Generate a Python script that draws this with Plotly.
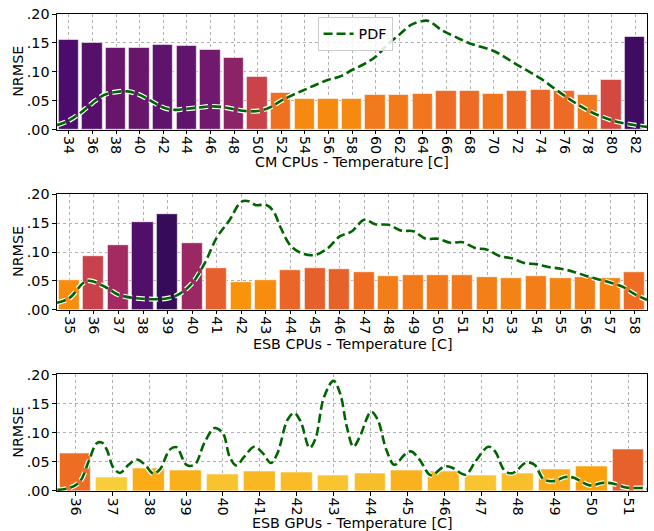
import plotly.graph_objects as go

# ---------------- data ----------------
cm_temps = [34, 36, 38, 40, 42, 44, 46, 48, 50, 52, 54, 56, 58, 60, 62, 64, 66, 68, 70, 72, 74, 76, 78, 80, 82]
cm_nrmse = [0.155, 0.150, 0.141, 0.141, 0.146, 0.145, 0.137, 0.123, 0.091, 0.063, 0.052, 0.052, 0.052,
            0.059, 0.059, 0.061, 0.066, 0.066, 0.062, 0.066, 0.068, 0.066, 0.060, 0.086, 0.161]
cm_pdf_t = [33.0, 34, 35, 36, 37, 38, 39, 40, 41, 42, 43, 44, 45, 46, 47, 48, 49, 50, 51, 52, 53, 54, 55,
            56, 57, 58, 59, 60, 61, 62, 63, 64, 64.5, 65.6, 66.7, 68, 70, 72, 74, 76, 78, 80, 82, 83]
cm_pdf_v = [0.0074, 0.0155, 0.029, 0.046, 0.060, 0.065, 0.066, 0.060, 0.049, 0.038, 0.034, 0.036, 0.038,
            0.040, 0.039, 0.035, 0.032, 0.032, 0.038, 0.050, 0.060, 0.069, 0.078, 0.086, 0.092, 0.103,
            0.113, 0.126, 0.147, 0.164, 0.181, 0.188, 0.188, 0.172, 0.161, 0.149, 0.136, 0.112, 0.088,
            0.0586, 0.033, 0.016, 0.0074, 0.0045]

esbc_temps = list(range(35, 59))
esbc_nrmse = [0.051, 0.092, 0.112, 0.152, 0.165, 0.116, 0.072, 0.048, 0.051, 0.069, 0.072, 0.071,
              0.065, 0.058, 0.059, 0.059, 0.060, 0.057, 0.055, 0.058, 0.055, 0.057, 0.055, 0.065]
esbc_pdf_t = [34.5, 35, 35.72, 36.5, 37, 38, 39, 39.5, 40, 40.5, 41, 41.5, 42, 42.3, 42.6, 43, 43.3,
              43.6, 44, 44.5, 45, 45.5, 46, 46.5, 47, 47.45, 48, 48.5, 49, 49.5, 50, 50.5, 51, 51.5,
              52, 52.5, 53, 53.5, 54, 54.5, 55, 55.5, 56, 56.5, 57, 57.5, 58, 58.5]
esbc_pdf_v = [0.012, 0.020, 0.050, 0.0385, 0.026, 0.019, 0.020, 0.028, 0.046, 0.080, 0.125, 0.154,
              0.187, 0.188, 0.181, 0.182, 0.171, 0.142, 0.111, 0.097, 0.095, 0.106, 0.127, 0.136,
              0.156, 0.148, 0.147, 0.137, 0.136, 0.123, 0.123, 0.116, 0.117, 0.107, 0.104, 0.093,
              0.089, 0.081, 0.079, 0.074, 0.071, 0.066, 0.059, 0.053, 0.047, 0.040, 0.027, 0.017]

esbg_temps = list(range(36, 52))
esbg_nrmse = [0.065, 0.024, 0.038, 0.036, 0.028, 0.033, 0.031, 0.027, 0.030, 0.035, 0.0335, 0.027,
              0.0295, 0.037, 0.042, 0.071]
esbg_pdf_t = [35.51, 35.87, 36.13, 36.36, 36.58, 36.72, 36.85, 37.03, 37.21, 37.44, 37.66, 37.89, 38.11,
              38.29, 38.56, 38.74, 39.01, 39.23, 39.50, 39.77, 40.0, 40.18, 40.36, 40.58, 40.85, 41.08,
              41.30, 41.48, 41.75, 41.93, 42.11, 42.35, 42.51, 42.74, 43.0, 43.18, 43.36, 43.54, 43.71,
              44.02, 44.2, 44.43, 44.65, 44.92, 45.1, 45.33, 45.64, 46.0, 46.22, 46.58, 46.85, 47.2,
              47.38, 47.65, 47.87, 48.23, 48.45, 48.7, 48.97, 49.28, 49.5, 49.95, 50.3, 50.57, 50.93,
              51.42, 51.5]
esbg_pdf_v = [0.002, 0.006, 0.017, 0.051, 0.082, 0.083, 0.071, 0.040, 0.031, 0.045, 0.054, 0.045, 0.030,
              0.037, 0.071, 0.075, 0.045, 0.045, 0.083, 0.108, 0.099, 0.059, 0.044, 0.059, 0.076, 0.065,
              0.048, 0.065, 0.122, 0.134, 0.119, 0.074, 0.090, 0.161, 0.189, 0.167, 0.110, 0.076, 0.093,
              0.136, 0.122, 0.071, 0.045, 0.062, 0.068, 0.054, 0.027, 0.042, 0.040, 0.028, 0.051, 0.076,
              0.068, 0.034, 0.031, 0.049, 0.045, 0.020, 0.017, 0.024, 0.023, 0.0097, 0.014, 0.013, 0.006,
              0.005, 0.004]

panels = [
    dict(temps=cm_temps, vals=cm_nrmse, pt=cm_pdf_t, pv=cm_pdf_v, t0=34, step=2,
         title="CM CPUs - Temperature [C]"),
    dict(temps=esbc_temps, vals=esbc_nrmse, pt=esbc_pdf_t, pv=esbc_pdf_v, t0=35, step=1,
         title="ESB CPUs - Temperature [C]"),
    dict(temps=esbg_temps, vals=esbg_nrmse, pt=esbg_pdf_t, pv=esbg_pdf_v, t0=36, step=1,
         title="ESB GPUs - Temperature [C]"),
]
y_ticks = [0, 0.05, 0.10, 0.15, 0.20]
y_ticktext = [".00", ".05", ".10", ".15", ".20"]

# ---------------- layout geometry ----------------
W, H = 654, 531
ML, MR, MT, MB = 57, 6, 12, 40
PH = H - MT - MB
extents = [(12, 128), (193, 309), (374, 491)]
title_y_px = [161, 343, 523]

def py(px):
    return 1 - (px - MT) / PH

FONT = "DejaVu Sans"
FS = 14.3
GREEN = "#006400"
DASH = "9px,4px"

fig = go.Figure()
annotations = []
for k, p in enumerate(panels):
    n = len(p["temps"])
    idx = list(range(n))
    xa = "x" if k == 0 else f"x{k+1}"
    ya = "y" if k == 0 else f"y{k+1}"
    fig.add_trace(go.Bar(
        x=idx, y=p["vals"], width=0.86, xaxis=xa, yaxis=ya,
        marker=dict(color=p["vals"], colorscale="Inferno", reversescale=True, cmin=0, cmax=0.2,
                    line=dict(color="rgba(255,255,255,0.55)", width=1.2)),
        showlegend=False, hoverinfo="skip"))
    px_ = [(t - p["t0"]) / p["step"] for t in p["pt"]]
    fig.add_trace(go.Scatter(
        x=px_, y=p["pv"], mode="lines", xaxis=xa, yaxis=ya,
        line=dict(color="white", width=5, dash=DASH, shape="spline", smoothing=1.0),
        showlegend=False, hoverinfo="skip"))
    fig.add_trace(go.Scatter(
        x=px_, y=p["pv"], mode="lines", xaxis=xa, yaxis=ya, name="PDF",
        line=dict(color=GREEN, width=2.6, dash=DASH, shape="spline", smoothing=1.0),
        showlegend=(k == 0), hoverinfo="skip"))

    top, bot = extents[k]
    axis_common = dict(showline=True, linecolor="black", linewidth=1.2, mirror=True,
                       ticks="outside", ticklen=3.5, tickcolor="black", tickwidth=1,
                       showgrid=True, gridcolor="#b0b0b0", griddash="dot", gridwidth=0.8,
                       zeroline=False, tickfont=dict(family=FONT, size=FS, color="black"))
    fig.layout[("xaxis" if k == 0 else f"xaxis{k+1}")] = dict(
        axis_common, domain=[0, 1], anchor=ya, range=[-0.5, n - 0.5],
        tickmode="array", tickvals=idx, ticktext=[str(t) for t in p["temps"]], tickangle=90,
        ticklabelstandoff=-1)
    fig.layout[("yaxis" if k == 0 else f"yaxis{k+1}")] = dict(
        axis_common, domain=[py(bot), py(top)], anchor=xa, range=[0, 0.2],
        tickmode="array", tickvals=y_ticks, ticktext=y_ticktext)

    annotations.append(dict(text=p["title"], xref="paper", yref="paper", x=0.5, y=py(title_y_px[k]),
                            xanchor="center", yanchor="middle", showarrow=False,
                            font=dict(family=FONT, size=FS, color="black")))
    annotations.append(dict(text="NRMSE", xref="paper", yref="paper", x=(18 - ML) / (W - ML - MR),
                            y=py((top + bot) / 2), xanchor="center", yanchor="middle",
                            textangle=-90, showarrow=False,
                            font=dict(family=FONT, size=FS, color="black")))

fig.update_layout(
    width=W, height=H, margin=dict(l=ML, r=MR, t=MT, b=MB),
    paper_bgcolor="white", plot_bgcolor="white", bargap=0,
    font=dict(family=FONT, size=FS, color="black"),
    annotations=annotations,
    legend=dict(x=(318 - ML) / (W - ML - MR), y=py(15), xanchor="left", yanchor="top",
                bgcolor="rgba(255,255,255,0.85)", bordercolor="#cccccc", borderwidth=1,
                font=dict(family=FONT, size=FS, color="black")),
)

fig.write_html("out.html", config={"displayModeBar": False},
               post_script="document.body.style.margin='0';document.body.style.overflow='hidden';")
